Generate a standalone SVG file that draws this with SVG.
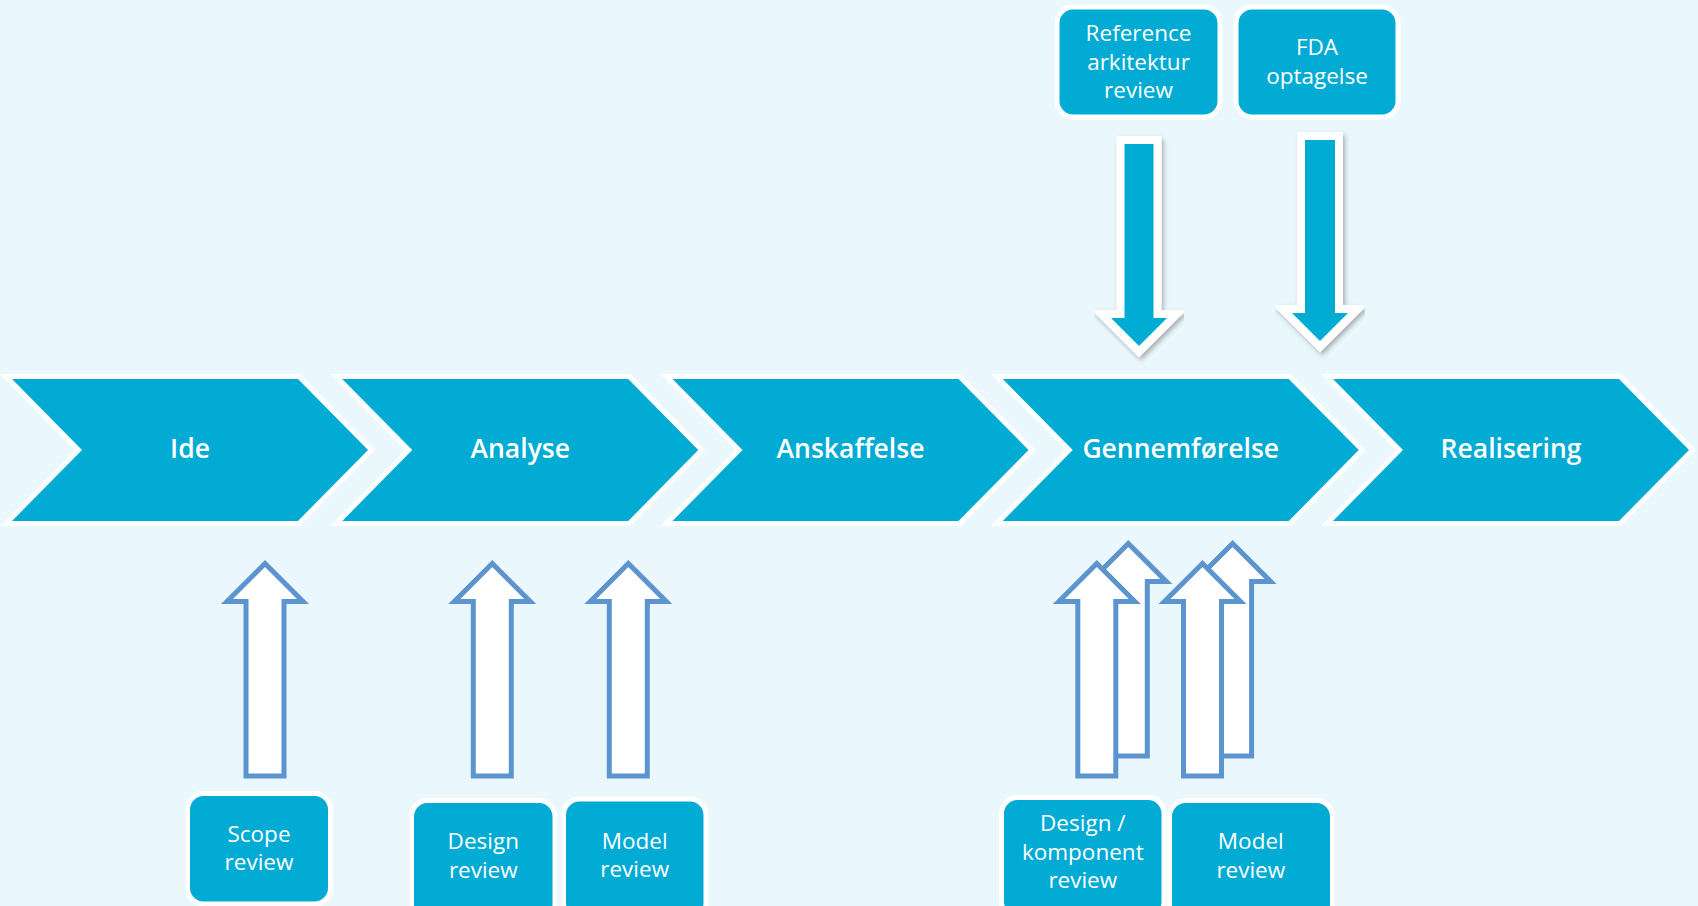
<svg xmlns="http://www.w3.org/2000/svg" width="1698" height="906" viewBox="0 0 1698 906">
<defs>
<filter id="sh" x="-30%" y="-10%" width="160%" height="130%">
<feDropShadow dx="2" dy="3" stdDeviation="2.5" flood-color="#000" flood-opacity="0.3"/>
</filter>
<style>
.chev{fill:#02ABD4;stroke:#fff;stroke-width:10;paint-order:stroke;stroke-linejoin:miter;stroke-miterlimit:10}
.box{fill:#02ABD4;stroke:#fff;stroke-width:5}
.down{fill:#02ABD4;stroke:#fff;stroke-width:16;paint-order:stroke;stroke-linejoin:miter;stroke-miterlimit:10}
.up{fill:#fff;stroke:#5B94CE;stroke-width:5;stroke-linejoin:miter;stroke-miterlimit:10}
.ct{font-family:"Open Sans","Noto Sans","DejaVu Sans",sans-serif;font-weight:600;font-size:26.5px;fill:#fff;text-anchor:middle}
.bt{font-family:"Open Sans","Noto Sans","DejaVu Sans",sans-serif;font-size:22.5px;fill:#fff;text-anchor:middle}
</style>
</defs>
<rect x="0" y="0" width="1698" height="906" fill="#EAF8FE"/>

<g id="phase-ide">
<polygon class="chev" points="12,379 298,379 368,450 298,521 12,521 82,450"/>
<text class="ct" x="190" y="458">Ide</text>
</g>
<g id="phase-analyse">
<polygon class="chev" points="342.25,379 628.25,379 698.25,450 628.25,521 342.25,521 412.25,450"/>
<text class="ct" x="520.25" y="458">Analyse</text>
</g>
<g id="phase-anskaffelse">
<polygon class="chev" points="672.5,379 958.5,379 1028.5,450 958.5,521 672.5,521 742.5,450"/>
<text class="ct" x="850.5" y="458">Anskaffelse</text>
</g>
<g id="phase-gennemforelse">
<polygon class="chev" points="1002.75,379 1288.75,379 1358.75,450 1288.75,521 1002.75,521 1072.75,450"/>
<text class="ct" x="1180.75" y="458">Gennemførelse</text>
</g>
<g id="phase-realisering">
<polygon class="chev" points="1333,379 1619,379 1689,450 1619,521 1333,521 1403,450"/>
<text class="ct" x="1511" y="458">Realisering</text>
</g>

<g id="box-reference">
<rect class="box" x="1057" y="7" width="163" height="110" rx="16"/>
<text class="bt" x="1138.5" y="41">Reference</text>
<text class="bt" x="1138.5" y="69.5">arkitektur</text>
<text class="bt" x="1138.5" y="98">review</text>
</g>
<g id="box-fda">
<rect class="box" x="1236" y="7" width="162" height="110" rx="16"/>
<text class="bt" x="1317" y="55">FDA</text>
<text class="bt" x="1317" y="83.5">optagelse</text>
</g>

<g id="box-scope">
<rect class="box" x="187.5" y="793.5" width="143" height="110.5" rx="16"/>
<text class="bt" x="259" y="841.5">Scope</text>
<text class="bt" x="259" y="870">review</text>
</g>
<g id="box-design">
<rect class="box" x="411.5" y="800.5" width="143.5" height="120" rx="16"/>
<text class="bt" x="483.3" y="849">Design</text>
<text class="bt" x="483.3" y="877.5">review</text>
</g>
<g id="box-model">
<rect class="box" x="563.5" y="799" width="142.5" height="120" rx="16"/>
<text class="bt" x="634.7" y="848.5">Model</text>
<text class="bt" x="634.7" y="876.5">review</text>
</g>
<g id="box-design-komponent">
<rect class="box" x="1001.5" y="797.5" width="162.5" height="120" rx="16"/>
<text class="bt" x="1082.8" y="831">Design /</text>
<text class="bt" x="1082.8" y="859.5">komponent</text>
<text class="bt" x="1082.8" y="888">review</text>
</g>
<g id="box-model-2">
<rect class="box" x="1169.5" y="800.5" width="163" height="120" rx="16"/>
<text class="bt" x="1250.8" y="849">Model</text>
<text class="bt" x="1250.8" y="877.5">review</text>
</g>

<g id="connectors">
<polygon class="down" filter="url(#sh)" points="1124.5,144 1153.5,144 1153.5,318 1167,318 1139,346 1111,318 1124.5,318"/>
<polygon class="down" filter="url(#sh)" points="1305,140 1335,140 1335,313 1348,313 1320,341 1292,313 1305,313"/>

<polygon class="up" points="265,563.5 303,601.5 284,601.5 284,776 246,776 246,601.5 227,601.5"/>
<polygon class="up" points="492.3,563.5 530.3,601.5 511.3,601.5 511.3,776 473.3,776 473.3,601.5 454.3,601.5"/>
<polygon class="up" points="628.3,563.5 666.3,601.5 647.3,601.5 647.3,776 609.3,776 609.3,601.5 590.3,601.5"/>

<polygon class="up" points="1128.3,543.5 1166.3,581.5 1147.3,581.5 1147.3,756 1109.3,756 1109.3,581.5 1090.3,581.5"/>
<polygon class="up" points="1096.8,563.5 1134.8,601.5 1115.8,601.5 1115.8,776 1077.8,776 1077.8,601.5 1058.8,601.5"/>
<polygon class="up" points="1232.6,543.5 1270.6,581.5 1251.6,581.5 1251.6,756 1213.6,756 1213.6,581.5 1194.6,581.5"/>
<polygon class="up" points="1202.5,563.5 1240.5,601.5 1221.5,601.5 1221.5,776 1183.5,776 1183.5,601.5 1164.5,601.5"/>
</g>
</svg>
